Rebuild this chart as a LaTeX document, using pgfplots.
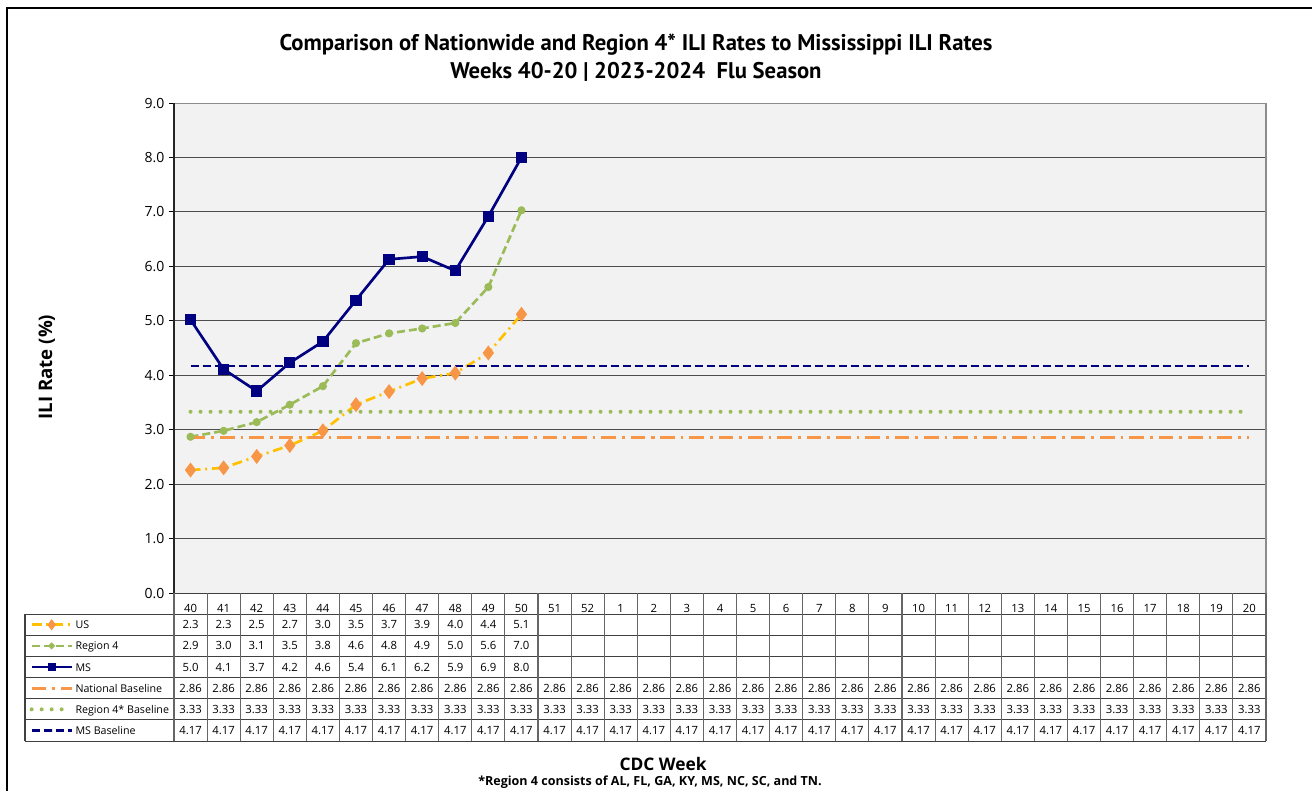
\documentclass[border=0pt]{standalone}
\usepackage{pgfplots}
\pgfplotsset{compat=1.18}
\usepackage{fontspec}
\setmainfont{Open Sans}
\newfontfamily\titlefont{PT Sans}

\definecolor{usgold}{HTML}{FFC000}
\definecolor{usorange}{HTML}{F79646}
\definecolor{regreen}{HTML}{9BBB59}
\definecolor{msnavy}{HTML}{000080}
\definecolor{plotbg}{HTML}{F2F2F2}
\definecolor{gridc}{HTML}{4D4D4D}

\begin{document}
\begin{tikzpicture}
\begin{axis}[
    x=24.818pt, y=40.833pt,
    xmin=-0.5, xmax=32.5, ymin=0, ymax=9,
    axis background/.style={fill=plotbg},
    axis line style={draw=gray!90, line width=0.8pt},
    xtick={0,...,32},
    xticklabels={40,41,42,43,44,45,46,47,48,49,50,51,52,1,2,3,4,5,6,7,8,9,10,11,12,13,14,15,16,17,18,19,20},
    xtick style={draw=none},
    xticklabel style={font=\fontsize{8.5}{10}\selectfont, anchor=center, yshift=-7.93pt, text height=6.1pt, text depth=0pt},
    ytick={0,...,9},
    ytick pos=left,
    ymajorgrids,
    major grid style={gridc, line width=0.8pt},
    tick align=outside,
    major tick length=3.75pt,
    ytick style={black, line width=0.8pt},
    yticklabel style={font=\fontsize{10.5}{12}\selectfont, /pgf/number format/.cd, fixed, fixed zerofill, precision=1},
    /pgf/number format/assume math mode=true,
    legend cell align=left,
    legend image code/.code={\draw[mark repeat=2,mark phase=2,#1,every mark/.append style={scale=0.65}] plot coordinates {(0pt,0pt) (15pt,0pt) (30pt,0pt)};},
    legend style={at={(axis cs:-5.003,-0.38836)}, anchor=north west, draw=none, fill=none,
        inner sep=0pt, outer sep=0pt, row sep=0pt, xshift=3.5pt,
        font=\fontsize{8}{10}\selectfont,
        nodes={inner xsep=1.4pt, inner ysep=0pt, minimum height=15.857pt, text height=6.1pt, text depth=0pt}},
]
\coordinate (O) at (axis cs:0,0);

% US
\addplot[usgold, line width=2pt, dash pattern=on 7.5pt off 3.5pt on 1.5pt off 3.5pt,
    mark=diamond*, mark size=4pt, mark options={solid, fill=usorange, draw=usorange}] coordinates {
    (0,2.26) (1,2.30) (2,2.51) (3,2.71) (4,2.98) (5,3.46) (6,3.70) (7,3.94) (8,4.04) (9,4.41) (10,5.12)
};
\addlegendentry{US}
% Region 4
\addplot[regreen, line width=2pt, dash pattern=on 6pt off 3pt,
    mark=*, mark size=2pt, mark options={solid, fill=regreen}] coordinates {
    (0,2.87) (1,2.98) (2,3.14) (3,3.46) (4,3.80) (5,4.59) (6,4.77) (7,4.86) (8,4.96) (9,5.62) (10,7.03)
};
\addlegendentry{Region 4}
% MS
\addplot[msnavy, line width=2pt, mark=square*, mark size=3.2pt, mark options={solid, fill=msnavy}] coordinates {
    (0,5.02) (1,4.11) (2,3.71) (3,4.23) (4,4.62) (5,5.38) (6,6.13) (7,6.18) (8,5.92) (9,6.92) (10,8.00)
};
\addlegendentry{MS}
% baselines
\addplot[usorange, line width=2.2pt, dash pattern=on 11pt off 4.5pt on 2pt off 4.5pt] coordinates {
    (0,2.86) (1,2.86) (2,2.86) (3,2.86) (4,2.86) (5,2.86) (6,2.86) (7,2.86) (8,2.86) (9,2.86) (10,2.86)
    (11,2.86) (12,2.86) (13,2.86) (14,2.86) (15,2.86) (16,2.86) (17,2.86) (18,2.86) (19,2.86) (20,2.86)
    (21,2.86) (22,2.86) (23,2.86) (24,2.86) (25,2.86) (26,2.86) (27,2.86) (28,2.86) (29,2.86) (30,2.86)
    (31,2.86) (32,2.86)
};
\addlegendentry{National Baseline}
\addplot[regreen, line width=3pt, line cap=round, dash pattern=on 0pt off 7.5pt] coordinates {
    (0,3.33) (1,3.33) (2,3.33) (3,3.33) (4,3.33) (5,3.33) (6,3.33) (7,3.33) (8,3.33) (9,3.33) (10,3.33)
    (11,3.33) (12,3.33) (13,3.33) (14,3.33) (15,3.33) (16,3.33) (17,3.33) (18,3.33) (19,3.33) (20,3.33)
    (21,3.33) (22,3.33) (23,3.33) (24,3.33) (25,3.33) (26,3.33) (27,3.33) (28,3.33) (29,3.33) (30,3.33)
    (31,3.33) (32,3.33)
};
\addlegendentry{Region 4* Baseline}
\addplot[msnavy, line width=2.2pt, dash pattern=on 6pt off 3pt] coordinates {
    (0,4.17) (1,4.17) (2,4.17) (3,4.17) (4,4.17) (5,4.17) (6,4.17) (7,4.17) (8,4.17) (9,4.17) (10,4.17)
    (11,4.17) (12,4.17) (13,4.17) (14,4.17) (15,4.17) (16,4.17) (17,4.17) (18,4.17) (19,4.17) (20,4.17)
    (21,4.17) (22,4.17) (23,4.17) (24,4.17) (25,4.17) (26,4.17) (27,4.17) (28,4.17) (29,4.17) (30,4.17)
    (31,4.17) (32,4.17)
};
\addlegendentry{MS Baseline}
\end{axis}

\begin{scope}[shift={(O)}, x=24.818pt, y=40.833pt,
    cell/.style={font=\fontsize{8.5}{10}\selectfont, text height=6.1pt, text depth=0pt, inner sep=0pt}]
% outer frame (only left and top edges are inside the picture)
\draw[black, line width=0.9pt] (-5.547,-20) -- (-5.547,10.746) -- (40,10.746);
% left axis line
\draw[black!85, line width=0.8pt] (-0.5,0) -- (-0.5,9);
% data table grid
\def\h{0.38836}
\foreach \k in {1,...,7} \draw[black!75, line width=0.8pt] (-5.003,-\k*\h) -- (32.5,-\k*\h);
\draw[black!75, line width=0.8pt] (-0.5,0) -- (32.5,0);
\foreach \i in {0,...,33} \draw[black!60, line width=0.8pt] (\i-0.5,0) -- (\i-0.5,-7*\h);
\draw[black!75, line width=0.8pt] (-5.003,-\h) -- (-5.003,-7*\h);
% table values
\foreach \v [count=\i from 0] in {2.3,2.3,2.5,2.7,3.0,3.5,3.7,3.9,4.0,4.4,5.1}
    \node[cell] at (\i,-1.5*\h) {\v};
\foreach \v [count=\i from 0] in {2.9,3.0,3.1,3.5,3.8,4.6,4.8,4.9,5.0,5.6,7.0}
    \node[cell] at (\i,-2.5*\h) {\v};
\foreach \v [count=\i from 0] in {5.0,4.1,3.7,4.2,4.6,5.4,6.1,6.2,5.9,6.9,8.0}
    \node[cell] at (\i,-3.5*\h) {\v};
\foreach \i in {0,...,32} {
    \node[cell] at (\i,-4.5*\h) {2.86};
    \node[cell] at (\i,-5.5*\h) {3.33};
    \node[cell] at (\i,-6.5*\h) {4.17};
}
% titles and labels
\node[font=\titlefont\bfseries\fontsize{17}{19}\selectfont] at (13.46,10.066)
    {Comparison of Nationwide and Region 4* ILI Rates to Mississippi ILI Rates};
\node[font=\titlefont\bfseries\fontsize{17}{19}\selectfont] at (13.46,9.570)
    {Weeks 40-20 | 2023-2024 \ Flu Season};
\node[rotate=90, font=\bfseries\fontsize{14}{16}\selectfont] at (-4.34,4.15) {ILI Rate (\%)};
\node[font=\bfseries\fontsize{13}{15}\selectfont] at (14.28,-3.141) {CDC Week};
\node[font=\bfseries\fontsize{9.4}{11}\selectfont] at (13.885,-3.472)
    {*Region 4 consists of AL, FL, GA, KY, MS, NC, SC, and TN.};
\pgfresetboundingbox
\useasboundingbox (-5.758,-3.619) rectangle (33.89,10.893);
\end{scope}
\end{tikzpicture}
\end{document}
